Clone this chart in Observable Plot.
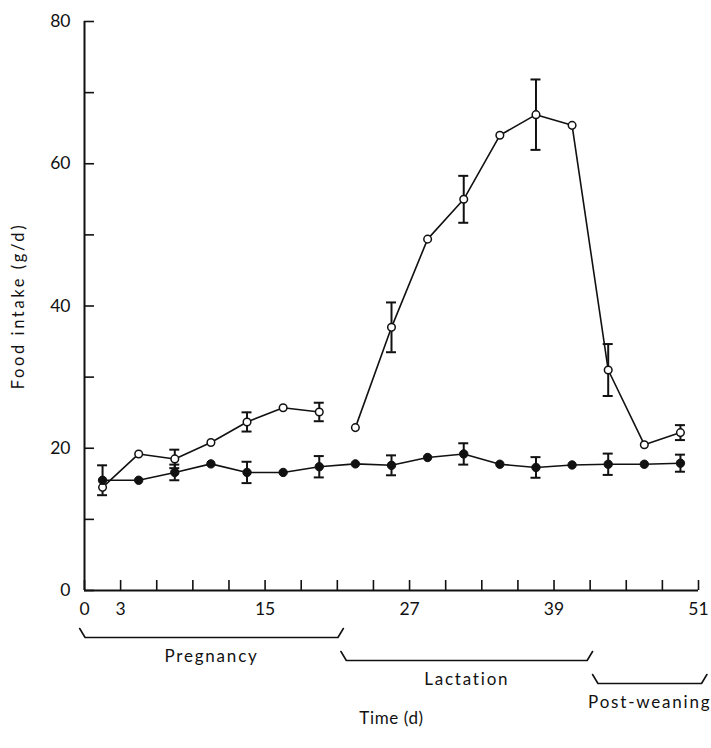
<!DOCTYPE html>
<html>
<head>
<meta charset="utf-8">
<script src="https://cdn.jsdelivr.net/npm/d3@7"></script>
<script src="https://cdn.jsdelivr.net/npm/@observablehq/plot@0.6"></script>
<style>
  html, body { margin: 0; padding: 0; background: #fff; }
  #chart svg { display: block; }
</style>
</head>
<body>
<div id="chart"></div>
<script>
// ---- data ----
const days = [1.5, 4.5, 7.5, 10.5, 13.5, 16.5, 19.5, 22.5, 25.5, 28.5, 31.5, 34.5, 37.5, 40.5, 43.5, 46.5, 49.5];
// filled circles (non-reproducing controls)
const controlIntake = [15.5, 15.5, 16.6, 17.8, 16.6, 16.6, 17.4, 17.8, 17.6, 18.7, 19.2, 17.75, 17.3, 17.65, 17.75, 17.75, 17.9];
const controlSem    = [2.1, null, 1.1, null, 1.5, null, 1.5, null, 1.4, null, 1.5, null, 1.45, null, 1.5, null, 1.2];
// open circles (pregnant / lactating)
const reproIntake = [14.5, 19.2, 18.5, 20.8, 23.7, 25.7, 25.1, 22.9, 37.0, 49.4, 55.0, 64.0, 66.9, 65.4, 31.0, 20.5, 22.2];
const reproSem    = [null, null, 1.3, null, 1.35, null, 1.3, null, 3.5, null, 3.3, null, 4.95, null, 3.65, null, 1.05];
const reproSegment = ["pregnancy","pregnancy","pregnancy","pregnancy","pregnancy","pregnancy","pregnancy",
                      "lactation","lactation","lactation","lactation","lactation","lactation","lactation","lactation","lactation","lactation"];
// axis ticks
const xTicks = d3.range(0, 52, 3);
const xTickLabels = [0, 3, 15, 27, 39, 51];
const yTicks = d3.range(0, 81, 10);
const yTickLabels = [0, 20, 40, 60, 80];
// phases (days)
const phaseNames = ["Pregnancy", "Lactation", "Post-weaning"];
const phaseStart = [-0.4, 21.3, 42.2];
const phaseEnd   = [21.5, 42.2, 51.7];
const xTitle = "Time (d)";
const yTitle = "Food intake (g/d)";

// ---- layout ----
const W = 711, H = 748;
const mTop = 21, mBottom = 158, mLeft = 84, mRight = 13;
const yMax = 80;
const pxPerUnit = (H - mTop - mBottom) / yMax;
const pxBelow = px => -px / pxPerUnit;       // pixel offset below the x axis -> y units
const phaseDrop = [47, 70, 93];              // horizontal bracket line below axis (px)
const hookH = 9, hookW = 0.45;

const control = days.map((d, i) => ({day: d, v: controlIntake[i], sem: controlSem[i]}));
const repro = days.map((d, i) => ({day: d, v: reproIntake[i], sem: reproSem[i], seg: reproSegment[i]}));
const errs = [...control, ...repro].filter(d => d.sem != null);

const brackets = [];
phaseNames.forEach((name, i) => {
  const s = phaseStart[i], e = phaseEnd[i], drop = phaseDrop[i];
  brackets.push({name, x: s, y: pxBelow(drop - hookH)});
  brackets.push({name, x: s + hookW, y: pxBelow(drop)});
  brackets.push({name, x: e - hookW, y: pxBelow(drop)});
  brackets.push({name, x: e, y: pxBelow(drop - hookH)});
});
const phaseLabels = phaseNames.map((name, i) => ({
  name, x: (phaseStart[i] + phaseEnd[i]) / 2, y: pxBelow(phaseDrop[i] + 19)
}));

const ink = "#111";
const chart = Plot.plot({
  width: W, height: H,
  marginTop: mTop, marginBottom: mBottom, marginLeft: mLeft, marginRight: mRight,
  style: {fontFamily: "Lato, 'Open Sans', sans-serif", fontSize: "17px", color: ink, background: "#fff"},
  x: {domain: [0, 51]},
  y: {domain: [0, yMax]},
  marks: [
    // axes
    Plot.ruleX([0], {y1: 0, y2: yMax, stroke: ink, strokeWidth: 2}),
    Plot.ruleY([0], {x1: 0, x2: 51, stroke: ink, strokeWidth: 2}),
    Plot.axisY({ticks: yTicks, tickSize: -10, tickFormat: () => "", label: null, strokeWidth: 1.6, stroke: ink}),
    Plot.axisY({ticks: yTickLabels, tickSize: 0, tickPadding: 14, label: null, fontSize: 17.5, fill: ink}),
    Plot.axisX({ticks: xTicks, tickSize: -10, tickFormat: () => "", label: null, strokeWidth: 1.6, stroke: ink}),
    Plot.axisX({ticks: xTickLabels, tickSize: 0, tickPadding: 12, label: null, fontSize: 17.5, fill: ink}),
    // axis titles
    Plot.text([xTitle], {frameAnchor: "bottom", dy: 133, fontSize: 17, fill: ink}),
    Plot.text([yTitle], {frameAnchor: "left", textAnchor: "middle", dx: -66, rotate: -90, fontSize: 16.5, fill: ink}),
    // phase brackets
    Plot.line(brackets, {x: "x", y: "y", z: "name", stroke: ink, strokeWidth: 1.6}),
    Plot.text(phaseLabels, {x: "x", y: "y", text: "name", fontSize: 17, fill: ink}),
    // series lines
    Plot.line(control, {x: "day", y: "v", stroke: ink, strokeWidth: 1.6}),
    Plot.line(repro, {x: "day", y: "v", z: "seg", stroke: ink, strokeWidth: 1.6}),
    // error bars
    Plot.ruleX(errs, {x: "day", y1: d => d.v - d.sem, y2: d => d.v + d.sem, stroke: ink, strokeWidth: 2}),
    Plot.ruleY(errs, {x1: "day", x2: "day", y: d => d.v + d.sem, insetLeft: -5, insetRight: -5, stroke: ink, strokeWidth: 2}),
    Plot.ruleY(errs, {x1: "day", x2: "day", y: d => d.v - d.sem, insetLeft: -5, insetRight: -5, stroke: ink, strokeWidth: 2}),
    // points
    Plot.dot(repro, {x: "day", y: "v", r: 3.8, fill: "white", stroke: ink, strokeWidth: 1.5}),
    Plot.dot(control, {x: "day", y: "v", r: 4.2, fill: ink, stroke: ink, strokeWidth: 1})
  ]
});
// letter spacing to match the spaced-out typesetting of the original figure
d3.select(chart).selectAll("text").each(function() {
  const t = this.textContent;
  if (phaseNames.includes(t)) this.style.letterSpacing = "1.8px";
  else if (t === yTitle) this.style.letterSpacing = "2.6px";
  else if (t === xTitle) this.style.letterSpacing = "0.6px";
});
document.getElementById("chart").appendChild(chart);
</script>
</body>
</html>
